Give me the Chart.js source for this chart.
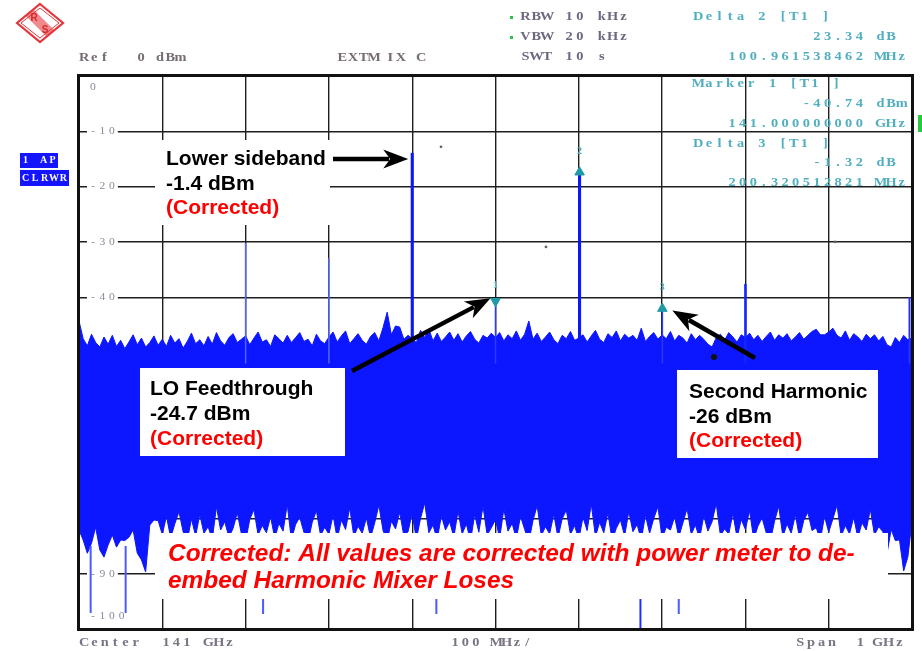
<!DOCTYPE html>
<html>
<head>
<meta charset="utf-8">
<script src="https://cdn.jsdelivr.net/npm/chart.js@4.4.1/dist/chart.umd.min.js"></script>
<style>
  html, body { margin: 0; padding: 0; background: #fff; }
  canvas { display: block; }
</style>
</head>
<body>
<canvas id="spectrum" width="922" height="651"></canvas>
<script>
// ---- Sweep setup: 1 GHz span centred on 141 GHz, x values are MHz offsets from centre ----
const sweepStartMHz = -500;
const binMHz = 5;

// Noise band: per-bin max-hold and min-hold levels (dBm)
const noiseMaxDbm = [
  -44.3,-47.5,-48.8,-46.7,-48.2,-49.0,-47.2,-48.5,-46.9,-48.9,
  -47.8,-49.3,-48.1,-46.8,-48.6,-47.4,-49.0,-48.2,-47.0,-48.7,
  -47.6,-48.9,-46.9,-48.3,-47.5,-49.2,-48.0,-46.5,-48.4,-47.7,
  -48.8,-47.1,-48.5,-46.4,-47.9,-48.7,-47.3,-46.6,-48.2,-47.6,
  -47.0,-48.6,-47.4,-46.3,-48.1,-47.7,-48.9,-46.8,-47.5,-48.3,
  -46.9,-48.2,-47.3,-46.4,-48.0,-47.6,-48.8,-46.7,-47.9,-48.4,
  -47.2,-46.3,-48.1,-47.0,-46.1,-48.4,-47.5,-46.6,-47.8,-48.5,
  -47.1,-46.4,-47.9,-45.5,-42.7,-46.8,-45.2,-45.4,-47.6,-46.9,
  -47.5,-48.2,-46.0,-47.3,-45.8,-47.9,-46.5,-48.0,-47.2,-46.3,
  -47.8,-46.6,-48.1,-47.0,-46.2,-47.6,-48.3,-46.9,-47.4,-46.5,
  -47.3,-46.4,-47.9,-46.8,-47.5,-46.1,-47.8,-46.7,-44.3,-47.6,
  -46.5,-48.0,-47.2,-46.3,-47.7,-48.4,-46.9,-47.5,-46.2,-47.8,
  -47.4,-46.8,-48.1,-47.0,-46.0,-47.6,-48.2,-46.6,-47.3,-46.1,
  -47.9,-46.7,-47.4,-46.9,-47.8,-45.6,-48.0,-47.1,-46.4,-47.6,
  -46.8,-47.5,-46.2,-47.9,-46.9,-47.4,-48.3,-46.6,-47.7,-46.9,
  -47.6,-48.5,-49.0,-47.3,-46.7,-47.8,-46.4,-47.2,-48.1,-46.8,
  -47.3,-46.5,-47.7,-46.9,-48.0,-47.1,-46.3,-47.8,-46.8,-47.4,
  -46.6,-47.9,-47.2,-46.4,-47.6,-46.9,-46.2,-45.8,-46.8,-46.8,
  -46.3,-45.6,-46.9,-47.4,-46.1,-47.8,-46.6,-47.2,-48.0,-46.7,
  -47.5,-46.8,-47.9,-47.1,-48.6,-49.0,-47.3,-48.2,-46.9,-47.7,
  -47.4
];
const noiseMinDbm = [
  -82.1,-83.9,-86.3,-84.5,-81.6,-85.7,-87.0,-84.8,-83.0,-85.2,
  -83.9,-84.0,-83.4,-82.1,-86.3,-87.5,-89.7,-81.2,-80.3,
  -80.4,-82.9,-79.6,-83.5,-81.0,-78.8,-82.4,-84.0,-80.1,-83.2,
  -79.3,-82.7,-81.5,-83.8,-77.9,-82.1,-80.6,-83.4,-81.8,-79.0,
  -82.8,-84.1,-80.2,-78.4,-83.0,-81.3,-82.6,-79.7,-83.6,-80.9,
  -82.3,-77.5,-83.9,-81.1,-79.8,-82.5,-84.2,-80.7,-78.6,-83.1,
  -81.6,-82.9,-79.4,-83.7,-80.3,-82.0,-78.1,-83.3,-81.4,-82.7,
  -79.9,-83.5,-80.8,-77.6,-82.2,-84.0,-80.5,-81.9,-78.9,-83.2,
  -82.4,-79.1,-83.8,-80.0,-77.2,-82.6,-81.2,-83.9,-79.5,-82.1,
  -80.6,-83.4,-78.7,-82.8,-81.0,-84.1,-79.3,-82.5,-77.8,-83.0,
  -81.7,-80.2,-83.6,-78.3,-82.3,-80.9,-83.7,-79.6,-82.0,-84.2,
  -80.4,-77.7,-83.1,-81.5,-82.8,-79.2,-83.5,-80.1,-78.5,-82.9,
  -81.3,-83.8,-79.8,-82.2,-77.4,-83.3,-80.7,-82.6,-79.0,-84.0,
  -81.8,-80.3,-83.2,-78.8,-82.4,-81.1,-83.9,-79.4,-82.7,-80.0,
  -77.9,-83.6,-81.6,-82.1,-79.7,-83.4,-80.8,-78.2,-82.9,-81.2,
  -83.7,-79.5,-82.3,-80.6,-77.3,-83.1,-81.9,-82.8,-79.1,-83.5,
  -80.2,-82.0,-78.6,-83.8,-81.4,-79.9,-82.6,-84.1,-80.5,-77.8,
  -83.3,-81.0,-82.7,-79.3,-83.6,-80.4,-78.9,-82.2,-81.7,-83.9,
  -79.6,-82.5,-80.1,-77.6,-83.2,-81.3,-82.8,-79.8,-83.5,-80.8,
  -82.1,-78.4,-83.0,-81.5,-82.4,
  -86.3,-82.0,-84.0,-83.9,-89.5,-87.0,-80.5
];

// Isolated low excursions of the min-hold trace (MHz offset, dBm)
const dipFreqsMHz = [-486, -444, -279, -71, 174, 220];
const dipLowDbm   = [-97.1, -97.1, -97.3, -97.3, -99.8, -97.3];

// Discrete tones without markers (MHz offset, dBm)
const toneFreqsMHz = [-300, -200, -100, 300, 497];
const toneLevelDbm = [-30.2, -32.9, -13.9, -37.6, -40.0];

// Marker readouts
const marker1 = { label: 'Marker 1 [T1 ]', freqMHz: 0, levelDbm: -40.74 };
const delta2  = { label: 'Delta 2 [T1 ]', offsetMHz: 100.961538462, deltaDb: 23.34 };
const delta3  = { label: 'Delta 3 [T1 ]', offsetMHz: 200.320512821, deltaDb: -1.32 };

// Stray display dots (MHz offset, dBm)
const dotFreqsMHz = [-65.4, 60.6, 407.6, 262.3];
const dotLevelDbm = [-12.8, -30.9, -30.0, -50.8];

// Axis labelling
const centreGHz = 141;
const yTickLabels = ['0', '-10', '-20', '-30', '-40', '-50', '-60', '-70', '-80', '-90', '-100'];

// ---- styles ----
const TRACE_BLUE = '#0c16ff';
const TEAL = '#52afbf';
const TEAL_DARK = '#1f9aa6';
const HEAD_GREY = '#6e6780';
const toneWidthPx = [1.5, 1.5, 3, 2.5, 2];
const toneColours = ['#5566ff', '#5566ff', TRACE_BLUE, '#1426ff', '#2233ff'];

const freqAt = i => sweepStartMHz + i * binMHz;
const pts = (levels) => levels.map((v, i) => ({ x: freqAt(i), y: v }));

const m2Level = marker1.levelDbm + delta2.deltaDb;
const m3Level = marker1.levelDbm + delta3.deltaDb;
const markers = [
  { n: '1', x: marker1.freqMHz, y: marker1.levelDbm, down: true },
  { n: '2', x: marker1.freqMHz + delta2.offsetMHz, y: m2Level, down: false },
  { n: '3', x: marker1.freqMHz + delta3.offsetMHz, y: m3Level, down: false }
];

function vline(x, lo, hi, width, colour, order) {
  return {
    type: 'line', data: [{ x, y: lo }, { x, y: hi }],
    borderColor: colour, borderWidth: width, pointRadius: 0, fill: false,
    borderCapStyle: 'butt', order
  };
}

const datasets = [];
// markers on top
datasets.push({
  type: 'line', showLine: false,
  data: markers.map(m => ({ x: m.x, y: m.y })),
  pointStyle: 'triangle', pointRadius: 5.5,
  pointRotation: markers.map(m => m.down ? 180 : 0),
  pointBackgroundColor: TEAL_DARK, pointBorderColor: TEAL_DARK, pointBorderWidth: 1,
  order: 0
});
datasets.push({
  type: 'line', showLine: false,
  data: dotFreqsMHz.map((f, i) => ({ x: f, y: dotLevelDbm[i] })),
  pointRadius: [1.4, 1.4, 1.4, 3], pointStyle: 'circle',
  pointBackgroundColor: ['#666', '#666', '#666', '#111'], pointBorderWidth: 0,
  order: 1
});
toneFreqsMHz.forEach((f, i) => datasets.push(vline(f, -52, toneLevelDbm[i], toneWidthPx[i], toneColours[i], 2)));
datasets.push(vline(markers[0].x, -52, markers[0].y, 1.5, '#2a3cff', 2));
datasets.push(vline(markers[1].x, -52, markers[1].y, 3, TRACE_BLUE, 2));
datasets.push(vline(markers[2].x, -52, markers[2].y, 1.5, '#2a3cff', 2));
dipFreqsMHz.forEach((f, i) => datasets.push(vline(f, -85, dipLowDbm[i], 2, i === 4 ? '#2030ff' : '#4a5cff', 3)));
// noise band: min trace, then max trace filled down to it
datasets.push({
  type: 'line', data: pts(noiseMinDbm), borderColor: TRACE_BLUE, borderWidth: 1,
  pointRadius: 0, fill: false, order: 4
});
datasets.push({
  type: 'line', data: pts(noiseMaxDbm), borderColor: TRACE_BLUE, borderWidth: 1,
  backgroundColor: TRACE_BLUE, pointRadius: 0, fill: '-1', order: 4
});

// ---- drawing helpers ----
function monoText(ctx, str, x, y, o) {
  const pitch = o.pitch || 10.6, size = o.size || 12.5, sx = o.sx || 1.15;
  ctx.save();
  ctx.font = (o.weight || 'bold') + ' ' + size + 'px "Liberation Serif"';
  ctx.fillStyle = o.color; ctx.textBaseline = 'middle'; ctx.textAlign = 'center';
  const x0 = o.align === 'right' ? x - str.length * pitch : x;
  for (let i = 0; i < str.length; i++) {
    const ch = str[i];
    if (ch === ' ') continue;
    ctx.save();
    ctx.translate(x0 + (i + 0.5) * pitch, y);
    ctx.scale(sx, 1);
    ctx.fillText(ch, 0, 0);
    ctx.restore();
  }
  ctx.restore();
  return str.length * pitch;
}

function arrow(ctx, x0, y0, x1, y1) {
  const head = 25, half = 9.5, a = Math.atan2(y1 - y0, x1 - x0);
  const bx = x1 - head * Math.cos(a), by = y1 - head * Math.sin(a);
  ctx.save();
  ctx.strokeStyle = '#000'; ctx.lineWidth = 4.5; ctx.lineCap = 'butt';
  ctx.beginPath(); ctx.moveTo(x0, y0);
  ctx.lineTo(x1 - (head - 6) * Math.cos(a), y1 - (head - 6) * Math.sin(a)); ctx.stroke();
  ctx.fillStyle = '#000';
  ctx.beginPath();
  ctx.moveTo(x1, y1);
  ctx.lineTo(bx + half * Math.sin(a), by - half * Math.cos(a));
  ctx.lineTo(x1 - (head - 7) * Math.cos(a), y1 - (head - 7) * Math.sin(a));
  ctx.lineTo(bx - half * Math.sin(a), by + half * Math.cos(a));
  ctx.closePath(); ctx.fill();
  ctx.restore();
}

function noteBox(ctx, b) {
  ctx.save();
  ctx.fillStyle = '#fff';
  ctx.fillRect(b.x, b.y, b.w, b.h);
  ctx.font = 'bold 21px "Liberation Sans"';
  ctx.textBaseline = 'alphabetic'; ctx.textAlign = 'left';
  b.lines.forEach((ln, i) => {
    ctx.fillStyle = ln[1];
    ctx.fillText(ln[0], b.tx, b.ty + i * b.lh);
  });
  ctx.restore();
}

function drawLogo(ctx, cx, cy) {
  ctx.save();
  ctx.translate(cx, cy);
  const path = () => { ctx.beginPath(); ctx.moveTo(0, -19); ctx.lineTo(23, 0); ctx.lineTo(0, 19); ctx.lineTo(-23, 0); ctx.closePath(); };
  ctx.save(); path(); ctx.clip();
  ctx.strokeStyle = '#f08a8c'; ctx.lineWidth = 10;
  ctx.beginPath(); ctx.moveTo(-14, -14); ctx.lineTo(14, 14); ctx.stroke();
  ctx.restore();
  ctx.strokeStyle = '#e2373c'; ctx.lineWidth = 2.2; path(); ctx.stroke();
  ctx.lineWidth = 1; ctx.beginPath(); ctx.moveTo(0, -15); ctx.lineTo(19, 0); ctx.lineTo(0, 15); ctx.lineTo(-19, 0); ctx.closePath(); ctx.stroke();
  ctx.fillStyle = '#d42a30'; ctx.font = 'bold 10px "Liberation Sans"'; ctx.textAlign = 'center'; ctx.textBaseline = 'middle';
  ctx.fillText('R', -6, -5); ctx.fillText('S', 5, 7);
  ctx.restore();
}

const decor = {
  id: 'decor',
  beforeDraw(chart) {
    const ctx = chart.ctx;
    ctx.save(); ctx.fillStyle = '#fff'; ctx.fillRect(0, 0, chart.width, chart.height); ctx.restore();
  },
  beforeDatasetsDraw(chart) {
    // level labels sitting on the graticule
    const ctx = chart.ctx, ys = chart.scales.y;
    yTickLabels.forEach(t => {
      const v = Number(t);
      let y = ys.getPixelForValue(v);
      if (v === 0) y += 11;
      if (v === -100) y -= 13;
      const w = t.length * 9.6;
      ctx.save(); ctx.fillStyle = '#fff'; ctx.fillRect(87, y - 5, w + 2, 10); ctx.restore();
      monoText(ctx, t, 88, y, { pitch: 9.6, size: 11, color: '#8c889c', weight: 'normal', sx: 1.05 });
    });
  },
  afterDatasetsDraw(chart) {
    const ctx = chart.ctx, xs = chart.scales.x, ys = chart.scales.y, a = chart.chartArea;
    // marker numbers
    markers.forEach(m => {
      monoText(ctx, m.n, xs.getPixelForValue(m.x) - 5, ys.getPixelForValue(m.y) - (m.down ? 16 : 21),
        { pitch: 10, size: 10, color: TEAL, sx: 1 });
    });
    // annotation boxes
    noteBox(ctx, { x: 155, y: 140, w: 175, h: 85, tx: 166, ty: 165, lh: 24.5,
      lines: [['Lower sideband', '#000'], ['-1.4 dBm', '#000'], ['(Corrected)', '#f00']] });
    noteBox(ctx, { x: 140, y: 368, w: 205, h: 88, tx: 150, ty: 395, lh: 25,
      lines: [['LO Feedthrough', '#000'], ['-24.7 dBm', '#000'], ['(Corrected)', '#f00']] });
    noteBox(ctx, { x: 677, y: 370, w: 201, h: 88, tx: 689, ty: 398, lh: 24.5,
      lines: [['Second Harmonic', '#000'], ['-26 dBm', '#000'], ['(Corrected)', '#f00']] });
    // footnote box
    ctx.save();
    ctx.fillStyle = '#fff'; ctx.fillRect(155, 533, 733, 66);
    const l1 = 'Corrected: All values are corrected with power meter to de-';
    ctx.font = 'italic bold 24px "Liberation Sans"';
    const size = 24 * 687 / ctx.measureText(l1).width;
    ctx.font = 'italic bold ' + size.toFixed(2) + 'px "Liberation Sans"';
    ctx.fillStyle = '#f00'; ctx.textBaseline = 'alphabetic';
    ctx.fillText(l1, 168, 561);
    ctx.fillText('embed Harmonic Mixer Loses', 168, 588);
    ctx.restore();
    // arrows to the tones
    const lsX = xs.getPixelForValue(toneFreqsMHz[2]);
    arrow(ctx, 333, 159, lsX - 4, 159);
    arrow(ctx, 352, 371, xs.getPixelForValue(markers[0].x) - 5, ys.getPixelForValue(markers[0].y) - 3);
    arrow(ctx, 755, 358, xs.getPixelForValue(markers[2].x) + 10, ys.getPixelForValue(markers[2].y) + 2);
    // frame
    ctx.save(); ctx.strokeStyle = '#111'; ctx.lineWidth = 3;
    ctx.strokeRect(a.left - 0.5, a.top - 0.5, a.right - a.left + 1, a.bottom - a.top + 1);
    ctx.restore();
  },
  afterDraw(chart) {
    const ctx = chart.ctx;
    drawLogo(ctx, 40, 23);
    // settings header
    monoText(ctx, 'Ref', 79, 58, { pitch: 10.2, color: '#776c74' });
    monoText(ctx, '0', 136, 58, { pitch: 10.2, color: '#776c74' });
    monoText(ctx, 'dBm', 155, 58, { pitch: 10.2, color: '#776c74' });
    monoText(ctx, 'EXTM', 337, 58, { pitch: 10.6, color: '#776c74' });
    monoText(ctx, 'IX', 385, 58, { pitch: 10.6, color: '#776c74' });
    monoText(ctx, 'C', 416, 58, { pitch: 10.6, color: '#776c74' });
    ctx.save(); ctx.fillStyle = '#2fbf4a';
    ctx.fillRect(510, 16, 3, 3); ctx.fillRect(510, 36, 3, 3); ctx.restore();
    monoText(ctx, 'RBW 10 kHz', 520, 17, { pitch: 10.9, color: HEAD_GREY });
    monoText(ctx, 'VBW 20 kHz', 520, 37, { pitch: 10.9, color: HEAD_GREY });
    monoText(ctx, 'SWT 10 s', 520, 57, { pitch: 10.9, color: HEAD_GREY });
    // marker readouts
    const R = 907, P = 10.6, fmt = (v, d) => v.toFixed(d);
    monoText(ctx, delta2.label, 693, 17, { pitch: P, color: TEAL });
    monoText(ctx, fmt(delta2.deltaDb, 2) + ' dB ', R, 37, { pitch: P, color: TEAL, align: 'right' });
    monoText(ctx, fmt(delta2.offsetMHz, 9) + ' MHz', R, 57, { pitch: P, color: TEAL, align: 'right' });
    monoText(ctx, marker1.label, 693, 84, { pitch: P, color: TEAL });
    monoText(ctx, fmt(marker1.levelDbm, 2) + ' dBm', R, 104, { pitch: P, color: TEAL, align: 'right' });
    monoText(ctx, fmt(centreGHz + marker1.freqMHz / 1000, 9) + ' GHz', R, 124, { pitch: P, color: TEAL, align: 'right' });
    monoText(ctx, delta3.label, 693, 144, { pitch: P, color: TEAL });
    monoText(ctx, fmt(delta3.deltaDb, 2) + ' dB ', R, 163, { pitch: P, color: TEAL, align: 'right' });
    monoText(ctx, fmt(delta3.offsetMHz, 9) + ' MHz', R, 183, { pitch: P, color: TEAL, align: 'right' });
    // trace status tags
    ctx.save();
    ctx.fillStyle = '#1414ff';
    ctx.fillRect(20, 153, 38, 15);
    ctx.fillRect(20, 170, 49, 16);
    ctx.restore();
    monoText(ctx, '1 AP', 21, 160.5, { pitch: 9, size: 10, color: '#fff', sx: 1 });
    monoText(ctx, 'CLRWR', 21, 178, { pitch: 9.4, size: 10, color: '#fff', sx: 1 });
    ctx.save(); ctx.fillStyle = '#27c93f'; ctx.fillRect(918, 115, 4, 17); ctx.restore();
    // frequency footer
    monoText(ctx, 'Center', 79, 643, { pitch: 10.3, color: '#7a7484' });
    monoText(ctx, String(centreGHz), 161, 643, { pitch: 10.3, color: '#7a7484' });
    monoText(ctx, 'GHz', 203, 643, { pitch: 10.6, color: '#7a7484' });
    monoText(ctx, '100 MHz/', 450, 643, { pitch: 10.3, color: '#7a7484' });
    monoText(ctx, 'Span', 795, 643, { pitch: 10.6, color: '#7a7484' });
    monoText(ctx, '1', 855, 643, { pitch: 10.6, color: '#7a7484' });
    monoText(ctx, 'GHz', 872, 643, { pitch: 11, color: '#7a7484' });
  }
};

const gridStyle = { color: '#1e1e1e', lineWidth: 1.4, drawTicks: false };

new Chart(document.getElementById('spectrum'), {
  type: 'line',
  data: { datasets },
  options: {
    responsive: false,
    animation: false,
    devicePixelRatio: 1,
    layout: { padding: { left: 79, top: 76, right: 10, bottom: 22 } },
    plugins: { legend: { display: false }, tooltip: { enabled: false } },
    elements: { line: { tension: 0 } },
    scales: {
      x: {
        type: 'linear', min: sweepStartMHz, max: -sweepStartMHz, offset: false,
        ticks: { display: false, stepSize: 100 },
        grid: gridStyle, border: { display: false },
        afterFit(s) { s.height = 0; }
      },
      y: {
        type: 'linear', min: -100, max: 0,
        ticks: { display: false, stepSize: 10 },
        grid: gridStyle, border: { display: false },
        afterFit(s) { s.width = 0; }
      }
    }
  },
  plugins: [decor]
});
</script>
</body>
</html>
